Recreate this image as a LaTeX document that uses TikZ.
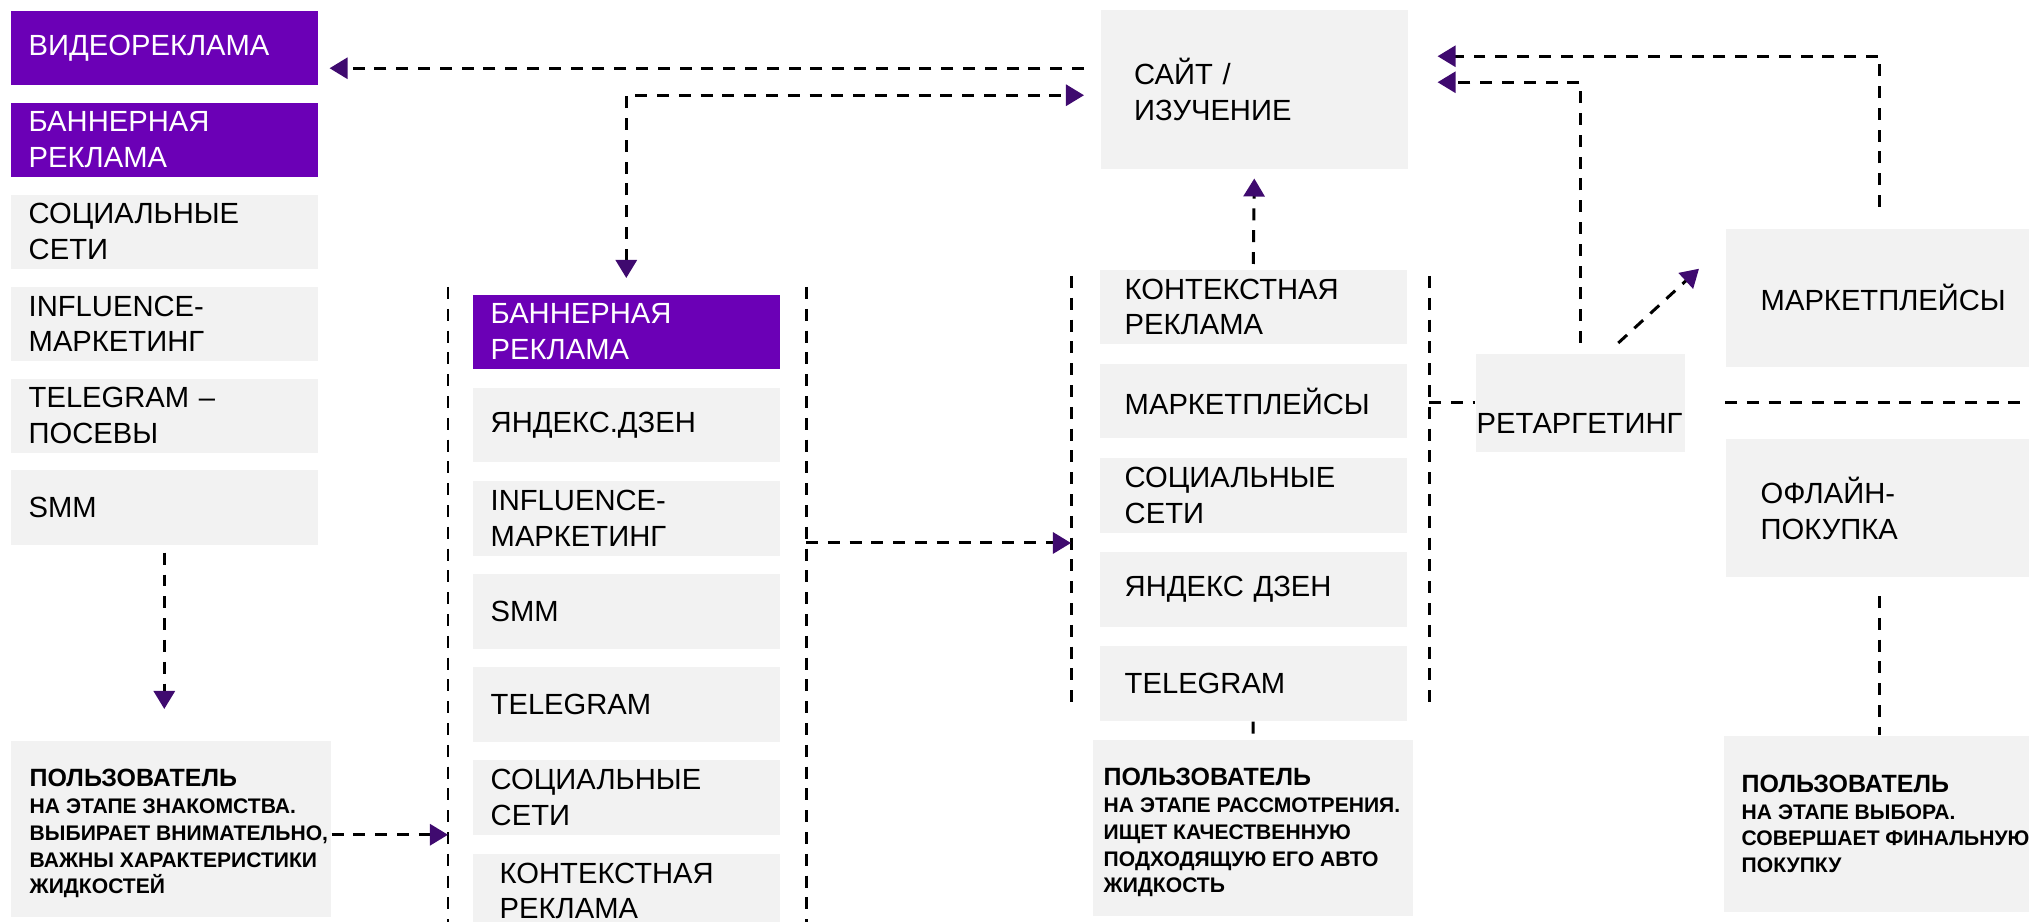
\documentclass[tikz,border=0pt]{standalone}
\usepackage{fontspec}
\setmainfont{Liberation Sans}
\usepackage{tikz}
\usetikzlibrary{arrows.meta, calc, positioning}
\definecolor{adviolet}{HTML}{6B00B6}
\definecolor{tipviolet}{HTML}{3F0A6F}
\definecolor{boxgrey}{HTML}{F2F2F2}
\tikzset{%
    link/.style={%
        draw=black,
        line width=0.85pt,
        dash pattern=on 3.4pt off 2.8pt,
    },
    tipend/.style={%
        -{Triangle[length=1.8mm, width=2.1mm, color=tipviolet]},
    },
    tipboth/.style={%
        {Triangle[length=1.8mm, width=2.1mm, color=tipviolet]}-{Triangle[length=1.8mm, width=2.1mm, color=tipviolet]},
    },
    channel/.style={%
        rectangle,
        fill=boxgrey,
        minimum width=3.07cm,
        minimum height=0.745cm,
        inner xsep=0.18cm,
        inner ysep=0pt,
        text width=2.71cm,
        align=left,
        font=\fontsize{8.3}{10.2}\selectfont,
    },
    channelR/.style={%
        channel,
        inner xsep=0.25cm,
        text width=2.57cm,
    },
    paid/.style={%
        channel,
        fill=adviolet,
        text=white,
    },
    stage/.style={%
        rectangle,
        fill=boxgrey,
        minimum width=3.2cm,
        minimum height=1.76cm,
    },
    stagetext/.style={%
        align=left,
        inner sep=0pt,
        font=\fontsize{6}{7.6}\selectfont\bfseries,
    },
}
\newcommand{\stagetitle}[1]{{\fontsize{7.1}{8.5}\selectfont #1}\\}

\begin{document}
\begin{tikzpicture}[x=0.01cm, y=-0.01cm, node distance=1.6mm]
	\useasboundingbox (0,0) rectangle (2029,922);

	\node [paid, anchor=north west] at (10,10) (videoL) {ВИДЕОРЕКЛАМА};
	\node [paid, below=of videoL] (bannerL) {БАННЕРНАЯ\\РЕКЛАМА};
	\node [channel, below=of bannerL] (socialL) {СОЦИАЛЬНЫЕ\\СЕТИ};
	\node [channel, below=of socialL] (influenceL) {INFLUENCE-\\МАРКЕТИНГ};
	\node [channel, below=of influenceL] (telegramL) {TELEGRAM –\\ПОСЕВЫ};
	\node [channel, below=of telegramL] (smmL) {SMM};

	\node [paid, anchor=north west] at (472,294) (bannerM) {БАННЕРНАЯ\\РЕКЛАМА};
	\node [channel, below=1.72mm of bannerM] (zenM) {ЯНДЕКС.ДЗЕН};
	\node [channel, below=1.72mm of zenM] (influenceM) {INFLUENCE-\\МАРКЕТИНГ};
	\node [channel, below=1.72mm of influenceM] (smmM) {SMM};
	\node [channel, below=1.72mm of smmM] (telegramM) {TELEGRAM};
	\node [channel, below=1.72mm of telegramM] (socialM) {СОЦИАЛЬНЫЕ\\СЕТИ};
	\node [channel, below=1.72mm of socialM] (contextM) {\hspace*{0.09cm}КОНТЕКСТНАЯ\\\hspace*{0.09cm}РЕКЛАМА};

	\node [channel, anchor=north west, minimum height=1.59cm, inner xsep=0.32cm, text width=2.4cm] at (1100,9) (site) {САЙТ /\\ИЗУЧЕНИЕ};

	\node [channelR, anchor=north west] at (1099,269) (contextR) {КОНТЕКСТНАЯ\\РЕКЛАМА};
	\node [channelR, below=1.82mm of contextR] (marketR) {МАРКЕТПЛЕЙСЫ};
	\node [channelR, below=1.82mm of marketR] (socialR) {СОЦИАЛЬНЫЕ\\СЕТИ};
	\node [channelR, below=1.82mm of socialR] (zenR) {ЯНДЕКС ДЗЕН};
	\node [channelR, below=1.82mm of zenR] (telegramR) {TELEGRAM};

	\node [channel, anchor=north west, minimum width=2.09cm, minimum height=0.98cm, inner xsep=0.01cm, text width=2.07cm, text height=0.66cm, text depth=0.04cm] at (1475,353) (retarget) {РЕТАРГЕТИНГ};

	\node [channel, anchor=north west, minimum width=3.08cm, minimum height=1.38cm, inner xsep=0.35cm, text width=2.38cm] at (1725,228) (market) {МАРКЕТПЛЕЙСЫ};
	\node [channel, below=0.71cm of market, minimum width=3.08cm, minimum height=1.38cm, inner xsep=0.35cm, text width=2.38cm] (offline) {ОФЛАЙН-\\ПОКУПКА};

	\node [stage, anchor=north west] at (10,740) (userA) {};
	\node [stagetext, right=0.19cm of userA.west, yshift=-0.05cm] (userAtext) {\stagetitle{ПОЛЬЗОВАТЕЛЬ}НА ЭТАПЕ ЗНАКОМСТВА.\\ВЫБИРАЕТ ВНИМАТЕЛЬНО,\\ВАЖНЫ ХАРАКТЕРИСТИКИ\\ЖИДКОСТЕЙ};
	\node [stage, anchor=north west] at (1092,739) (userB) {};
	\node [stagetext, right=0.11cm of userB.west, yshift=-0.05cm] (userBtext) {\stagetitle{ПОЛЬЗОВАТЕЛЬ}НА ЭТАПЕ РАССМОТРЕНИЯ.\\ИЩЕТ КАЧЕСТВЕННУЮ\\ПОДХОДЯЩУЮ ЕГО АВТО\\ЖИДКОСТЬ};
	\node [stage, anchor=north west] at (1723,735) (userC) {};
	\node [stagetext, right=0.18cm of userC.west] (userCtext) {\stagetitle{ПОЛЬЗОВАТЕЛЬ}НА ЭТАПЕ ВЫБОРА.\\СОВЕРШАЕТ ФИНАЛЬНУЮ\\ПОКУПКУ};

	\coordinate (frameML) at (448,287);
	\coordinate (frameMR) at (806,287);
	\coordinate (frameRL) at (1071,276);
	\coordinate (frameRR) at (1429,276);
	\coordinate (hand) at (806,543);
	\coordinate (edgeR) at (2035,0);

	\draw[link] (frameML) -- ++(0,640);
	\draw[link] (frameMR) -- ++(0,640);
	\draw[link] (frameRL) -- ++(0,434);
	\draw[link] (frameRR) -- ++(0,434);

	\draw[link, tipend] ($(smmL.south)+(0,7)$) -- ($(smmL.south |- userA.north)+(0,-31)$);
	\draw[link, tipend] ($(userA.east)+(0,6)$) -- ($(userA.east -| frameML)+(0,6)$);
	\draw[link, tipend] (hand) -- (hand -| frameRL);

	\draw[link, tipend] ($(site.west)+(-16,-21)$) -- ($(site.west -| videoL.east)+(11,-21)$);
	\draw[link, tipboth] ($(bannerM.north)+(0,-16)$) |- ($(site.west)+(-16,6)$);
	\draw[link, tipend] ($(contextR.north)+(0,-5)$) -- ($(site.south)+(0,9)$);
	\draw[link] (telegramR) -- (userB);

	\draw[link, tipend] ($(market.north)+(0,-21)$) |- ($(site.east)+(29,-33)$);
	\draw[link, tipend] ($(retarget.north)+(0,-10)$) |- ($(site.east)+(29,-7)$);
	\draw[link, tipend] ($(retarget.north)+(38,-10)$) -- ($(market.west)+(-26,-29)$);
	\draw[link] (retarget.west -| frameRR) -- (retarget.west);
	\draw[link] (retarget.east -| market.west) -- (retarget.east -| edgeR);
	\draw[link] ($(offline.south)+(0,18)$) -- (offline.south |- userC.north);
\end{tikzpicture}
\end{document}
